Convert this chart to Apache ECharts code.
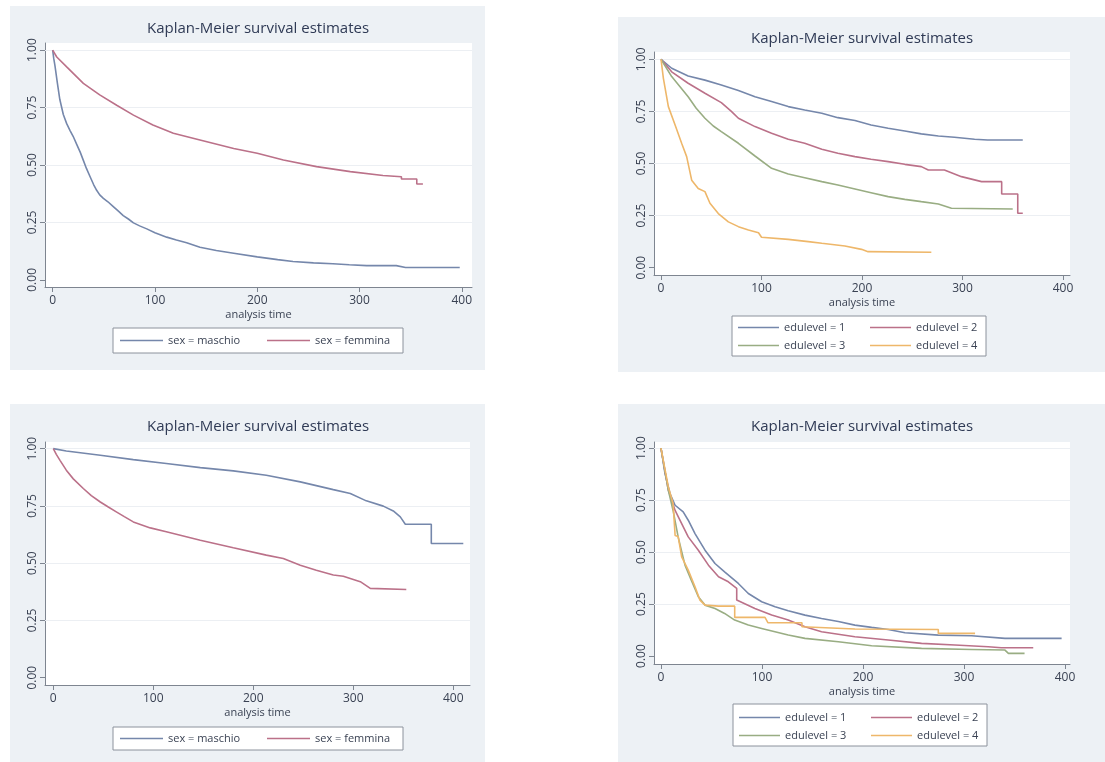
<!DOCTYPE html>
<html>
<head>
<meta charset="utf-8">
<script src="https://cdn.jsdelivr.net/npm/echarts@6/dist/echarts.min.js"></script>
<style>
html,body{margin:0;padding:0;background:#fff;}
#chart{width:1105px;height:762px;}
</style>
</head>
<body>
<div id="chart"></div>
<script>
// ---------- DATA ----------
const chartTitle = 'Kaplan-Meier survival estimates';
const xAxisName = 'analysis time';
const xTicks = [0, 100, 200, 300, 400];
const yTicks = [0, 0.25, 0.5, 0.75, 1];
const gridLineValues = [0.25, 0.5, 0.75, 1];
const sexNames = ['sex = maschio', 'sex = femmina'];
const eduNames = ['edulevel = 1', 'edulevel = 2', 'edulevel = 3', 'edulevel = 4'];

// Panel 1 (top-left)
const p1MaschioT = [0, 1, 2.3, 4.5, 7, 10.4, 13.7, 17, 20, 23.5, 27, 30, 33, 36.5, 40, 43, 46, 49.6, 54, 59, 64, 69, 74, 79, 85, 92, 100, 111.5, 121, 131, 144, 160, 177, 200, 220, 235, 255, 274, 290, 307, 336, 345, 398];
const p1MaschioS = [1, 0.965, 0.93, 0.86, 0.785, 0.72, 0.68, 0.65, 0.625, 0.59, 0.555, 0.52, 0.485, 0.45, 0.415, 0.39, 0.37, 0.355, 0.34, 0.32, 0.3, 0.28, 0.265, 0.248, 0.235, 0.222, 0.205, 0.186, 0.174, 0.162, 0.142, 0.128, 0.116, 0.10, 0.088, 0.08, 0.074, 0.07, 0.066, 0.062, 0.062, 0.054, 0.054];
const p1FemminaT = [0, 4, 13.7, 30, 46, 62.6, 79, 98, 118, 144, 177, 200, 225.6, 258, 291, 323, 341, 341, 356, 356, 362];
const p1FemminaS = [1, 0.97, 0.927, 0.855, 0.805, 0.76, 0.717, 0.674, 0.638, 0.609, 0.572, 0.551, 0.522, 0.493, 0.471, 0.454, 0.449, 0.439, 0.439, 0.417, 0.417];

// Panel 2 (top-right)
const p2Edu1T = [0, 10.6, 27, 43.7, 60, 77, 93.5, 110, 126.6, 143, 160, 176, 193, 209, 226, 242.6, 259, 276, 292, 312, 325, 360];
const p2Edu1S = [1, 0.957, 0.92, 0.90, 0.877, 0.85, 0.82, 0.797, 0.773, 0.757, 0.741, 0.72, 0.706, 0.685, 0.669, 0.656, 0.642, 0.632, 0.626, 0.616, 0.613, 0.613];
const p2Edu2T = [0, 10.6, 27, 43.7, 60, 70, 77, 93.5, 110, 126.6, 143, 160, 176, 193, 209, 226, 242.6, 259, 266, 282, 299, 319, 339, 339, 355, 355, 360];
const p2Edu2S = [1, 0.94, 0.885, 0.837, 0.792, 0.75, 0.717, 0.677, 0.645, 0.616, 0.597, 0.568, 0.549, 0.533, 0.52, 0.509, 0.496, 0.485, 0.469, 0.469, 0.437, 0.413, 0.413, 0.354, 0.354, 0.261, 0.261];
const p2Edu3T = [0, 10.6, 27, 35, 43.7, 52, 60, 77, 93.5, 110, 126.6, 143, 160, 176, 193, 209, 226, 242.6, 259, 276, 289, 350];
const p2Edu3S = [1, 0.917, 0.82, 0.765, 0.717, 0.68, 0.653, 0.597, 0.536, 0.477, 0.45, 0.432, 0.413, 0.397, 0.378, 0.36, 0.341, 0.328, 0.317, 0.306, 0.285, 0.282];
const p2Edu4T = [0, 2.3, 7.3, 14, 20.5, 25.5, 30.5, 37, 43.7, 48.7, 57, 67, 77, 87, 97, 100, 126.6, 146.5, 160, 183, 199.5, 206, 269];
const p2Edu4S = [1, 0.91, 0.773, 0.685, 0.597, 0.533, 0.42, 0.38, 0.365, 0.309, 0.26, 0.22, 0.197, 0.181, 0.168, 0.146, 0.136, 0.125, 0.117, 0.104, 0.088, 0.077, 0.074];

// Panel 3 (bottom-left)
const p3MaschioT = [0, 13, 47, 80, 113, 147, 180, 213, 247, 280, 297, 313, 330, 340, 347, 352, 378, 378, 410];
const p3MaschioS = [1, 0.99, 0.971, 0.952, 0.935, 0.917, 0.903, 0.884, 0.855, 0.821, 0.804, 0.772, 0.749, 0.728, 0.702, 0.67, 0.67, 0.586, 0.586];
const p3FemminaT = [0, 3, 6.7, 13, 20, 30, 38, 47, 55, 63, 71, 80, 97, 113, 147, 180, 213, 230, 247, 263, 280, 290, 307, 317, 353];
const p3FemminaS = [1, 0.975, 0.949, 0.906, 0.868, 0.826, 0.795, 0.767, 0.745, 0.724, 0.703, 0.68, 0.654, 0.637, 0.6, 0.567, 0.535, 0.52, 0.491, 0.469, 0.448, 0.443, 0.419, 0.39, 0.385];

// Panel 4 (bottom-right)
const p4Edu1T = [0, 4, 9, 14, 22, 27, 33.7, 43.6, 53.5, 63, 76.6, 86.5, 99.7, 113, 126, 142.6, 159, 175.6, 192, 208.6, 225, 241.6, 274.6, 307.6, 340.6, 396.7];
const p4Edu1S = [1, 0.877, 0.78, 0.725, 0.693, 0.653, 0.589, 0.509, 0.445, 0.405, 0.349, 0.301, 0.261, 0.237, 0.218, 0.197, 0.181, 0.166, 0.149, 0.138, 0.128, 0.112, 0.101, 0.098, 0.085, 0.085];
const p4Edu2T = [0, 7.3, 14, 20.5, 27, 37, 47, 57, 66.7, 75, 75, 93, 109.6, 126, 142.6, 159, 192, 225, 258, 291, 324, 337, 368.6];
const p4Edu2S = [1, 0.797, 0.70, 0.637, 0.573, 0.509, 0.437, 0.381, 0.357, 0.325, 0.27, 0.229, 0.197, 0.173, 0.141, 0.117, 0.093, 0.077, 0.061, 0.053, 0.045, 0.04, 0.04];
const p4Edu3T = [0, 7.3, 12, 17, 23.8, 30, 37, 43.6, 53.5, 63, 73, 86.5, 99.7, 126, 142.6, 175.6, 208.6, 258, 307.6, 340.6, 344, 360];
const p4Edu3S = [1, 0.797, 0.70, 0.573, 0.437, 0.365, 0.285, 0.245, 0.229, 0.205, 0.173, 0.149, 0.133, 0.101, 0.085, 0.069, 0.05, 0.037, 0.032, 0.029, 0.013, 0.013];
const p4Edu4T = [0, 7.3, 12, 14, 17, 20.5, 27, 33.7, 38.6, 43.6, 57, 73, 73, 103, 106, 139.6, 139.6, 192, 274.6, 274.6, 311];
const p4Edu4S = [1, 0.813, 0.733, 0.58, 0.575, 0.477, 0.413, 0.333, 0.269, 0.245, 0.24, 0.24, 0.186, 0.186, 0.16, 0.16, 0.141, 0.13, 0.128, 0.109, 0.109];

// ---------- STYLE / LAYOUT ----------
const FONT = 'Open Sans';
const COL = { blue: '#7587ab', red: '#bb7189', green: '#99ad83', orange: '#eeb76a' };
const AXIS_COL = '#7e8590';
const TEXT_COL = '#3a4253';
const TITLE_COL = '#2f3a55';
const BG = '#edf1f5';

const panels = [
  { bg: [10, 6, 475, 364], grid: { left: 45, top: 43, width: 427, height: 244 }, x: [-7.5, 410], y: [-0.031, 1.031], title: [258, 29],
    legend: { left: 113, top: 328, padding: [6, 10, 6, 7], width: 300, itemWidth: 43, itemGap: 21, names: sexNames, tw: [78, 78] } },
  { bg: [618, 17, 487, 355], grid: { left: 654, top: 52, width: 416, height: 223 }, x: [-7, 407], y: [-0.035, 1.035], title: [862, 39],
    legend: { left: 732, top: 316, padding: [5, 6, 4, 6], width: 262, itemWidth: 41, itemGap: 5, names: eduNames, tw: [81, 64, 81, 64] } },
  { bg: [10, 404, 475, 358], grid: { left: 45, top: 442, width: 425, height: 243 }, x: [-8.3, 416.7], y: [-0.032, 1.029], title: [258, 427],
    legend: { left: 113, top: 727, padding: [5, 10, 5, 7], width: 300, itemWidth: 43, itemGap: 21, names: sexNames, tw: [78, 78] } },
  { bg: [618, 404, 487, 358], grid: { left: 654, top: 442, width: 416, height: 222 }, x: [-6.9, 405], y: [-0.038, 1.029], title: [862, 427],
    legend: { left: 733, top: 704, padding: [7, 6, 4, 6], width: 262, itemWidth: 41, itemGap: 5, names: eduNames, tw: [81, 64, 81, 64] } }
];

const seriesDefs = [
  { p: 0, name: sexNames[0], t: p1MaschioT, s: p1MaschioS, c: COL.blue },
  { p: 0, name: sexNames[1], t: p1FemminaT, s: p1FemminaS, c: COL.red },
  { p: 1, name: eduNames[0], t: p2Edu1T, s: p2Edu1S, c: COL.blue },
  { p: 1, name: eduNames[1], t: p2Edu2T, s: p2Edu2S, c: COL.red },
  { p: 1, name: eduNames[2], t: p2Edu3T, s: p2Edu3S, c: COL.green },
  { p: 1, name: eduNames[3], t: p2Edu4T, s: p2Edu4S, c: COL.orange },
  { p: 2, name: sexNames[0], t: p3MaschioT, s: p3MaschioS, c: COL.blue },
  { p: 2, name: sexNames[1], t: p3FemminaT, s: p3FemminaS, c: COL.red },
  { p: 3, name: eduNames[0], t: p4Edu1T, s: p4Edu1S, c: COL.blue },
  { p: 3, name: eduNames[1], t: p4Edu2T, s: p4Edu2S, c: COL.red },
  { p: 3, name: eduNames[2], t: p4Edu3T, s: p4Edu3S, c: COL.green },
  { p: 3, name: eduNames[3], t: p4Edu4T, s: p4Edu4S, c: COL.orange }
];

const graphic = [];
const grid = [], xAxis = [], yAxis = [], legend = [], series = [];

panels.forEach((P, i) => {
  graphic.push({ type: 'rect', z: -1, silent: true, shape: { x: P.bg[0], y: P.bg[1], width: P.bg[2], height: P.bg[3] }, style: { fill: BG } });
  graphic.push({ type: 'text', silent: true, x: P.title[0], y: P.title[1],
    style: { text: chartTitle, textAlign: 'center', textVerticalAlign: 'middle', fill: TITLE_COL, font: '15px "' + FONT + '"' } });

  grid.push(Object.assign({ show: true, backgroundColor: '#ffffff', borderWidth: 0 }, P.grid));

  xAxis.push({
    gridIndex: i, type: 'value', min: P.x[0], max: P.x[1],
    axisLine: { show: true, onZero: false, lineStyle: { color: AXIS_COL, width: 1 } },
    axisTick: { show: true, length: 5, customValues: xTicks, lineStyle: { color: AXIS_COL } },
    axisLabel: { customValues: xTicks, color: TEXT_COL, fontFamily: FONT, fontSize: 12, margin: 8 },
    splitLine: { show: false },
    name: xAxisName, nameLocation: 'middle', nameGap: 22,
    nameTextStyle: { color: TEXT_COL, fontFamily: FONT, fontSize: 11 }
  });

  yAxis.push({
    gridIndex: i, type: 'value', min: P.y[0], max: P.y[1],
    axisLine: { show: true, onZero: false, lineStyle: { color: AXIS_COL, width: 1 } },
    axisTick: { show: true, length: 5, customValues: yTicks, lineStyle: { color: AXIS_COL } },
    axisLabel: { customValues: yTicks, rotate: 90, color: TEXT_COL, fontFamily: FONT, fontSize: 12, margin: 6,
      formatter: v => Number(v).toFixed(2) },
    splitLine: { show: false }
  });

  // faint horizontal gridlines (Stata style), kept beneath the curves
  series.push({
    type: 'line', xAxisIndex: i, yAxisIndex: i, data: [], silent: true, z: 1,
    markLine: { silent: true, z: 1, symbol: 'none', label: { show: false }, animation: false,
      lineStyle: { color: '#eceff3', width: 1, type: 'solid' },
      data: gridLineValues.map(v => ({ yAxis: v })) }
  });

  const L = P.legend;
  legend.push({
    left: L.left, top: L.top, width: L.width, orient: 'horizontal',
    padding: L.padding, itemGap: L.itemGap, itemWidth: L.itemWidth, itemHeight: 1.6,
    icon: 'rect', backgroundColor: '#ffffff', borderColor: '#8c929c', borderWidth: 1, borderRadius: 0,
    selectedMode: false,
    textStyle: { color: TEXT_COL, fontFamily: FONT, fontSize: 11, lineHeight: 13 },
    data: L.names.map((n, k) => ({ name: n, textStyle: { width: L.tw[k] } }))
  });
});

seriesDefs.forEach(d => {
  series.push({
    type: 'line', name: d.name, xAxisIndex: d.p, yAxisIndex: d.p,
    data: d.t.map((t, k) => [t, d.s[k]]),
    showSymbol: false, symbol: 'none', z: 3,
    itemStyle: { color: d.c },
    lineStyle: { color: d.c, width: 1.6 }
  });
});

const chart = echarts.init(document.getElementById('chart'), null, { renderer: 'canvas' });
chart.setOption({
  animation: false,
  backgroundColor: '#ffffff',
  graphic: graphic,
  grid: grid,
  xAxis: xAxis,
  yAxis: yAxis,
  legend: legend,
  series: series
});
</script>
</body>
</html>
